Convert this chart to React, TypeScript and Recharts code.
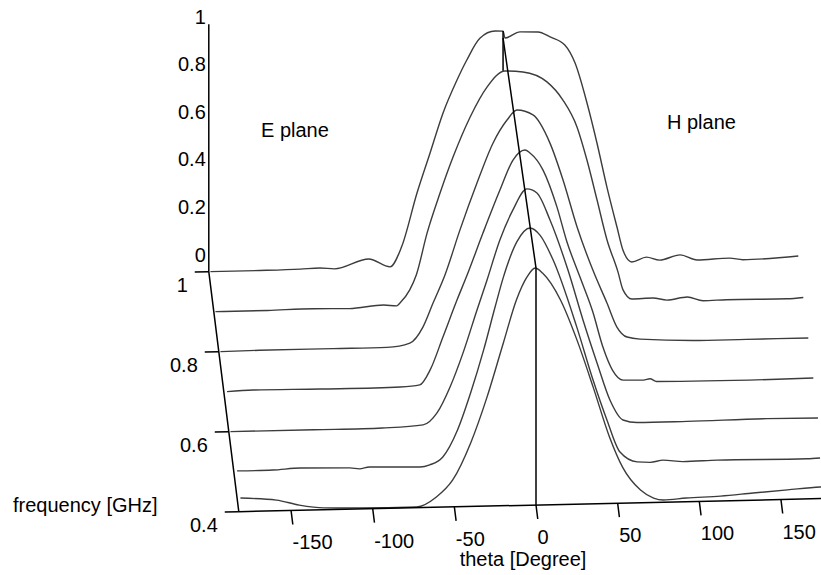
import { ComposedChart, Line, Scatter, XAxis, YAxis } from "recharts";

// frequencies of the cuts, GHz
const freqs = [0.4, 0.5, 0.6, 0.7, 0.8, 0.9, 1.0];

// normalized pattern cuts: [theta (deg), amplitude]
const cut04: [number, number][] = [
  [-181, 0.057], [-159, 0.045], [-145, 0.022], [-130, 0.008], [-108, 0.004], [-73, 0.003],
  [-61, 0.043], [-51, 0.113], [-40, 0.267], [-30, 0.458], [-20, 0.684], [-12, 0.863],
  [-5.5, 0.959], [-0.5, 0.996], [4, 0.974], [15, 0.859], [25, 0.691], [35, 0.49],
  [45, 0.279], [53, 0.151], [64, 0.053], [72, 0.018], [78, 0.009], [92, 0.015],
  [113, 0.02], [133, 0.03], [154, 0.04], [174, 0.049], [178, 0.05],
];
const cut05: [number, number][] = [
  [-180, 0.003], [-158, 0.003], [-141, 0.009], [-111, 0.005], [-105, 0], [-99, 0.007],
  [-68, 0.002], [-62, 0.01], [-54, 0.042], [-45, 0.154], [-37, 0.308], [-29, 0.488],
  [-22, 0.667], [-17, 0.79], [-8.6, 0.94], [-0.6, 0.996], [5.5, 0.965], [13.5, 0.86],
  [28, 0.576], [38, 0.351], [46.5, 0.182], [54.5, 0.046], [65, 0.003], [73, 0],
  [81, 0.008], [93, 0], [114, 0.003], [169, 0], [177, 0.002],
];
const cut06: [number, number][] = [
  [-181, 0], [-130, 0], [-88, 0.001], [-63, 0.01], [-54.5, 0.059], [-46.5, 0.167],
  [-38.6, 0.308], [-30, 0.488], [-24, 0.61], [-16, 0.78], [-8, 0.905], [0.6, 0.992],
  [6.7, 0.974], [14.7, 0.859], [25.7, 0.647], [34.9, 0.436], [43.5, 0.254], [51.4, 0.097],
  [59.4, 0.012], [68, 0], [98.6, 0], [147.6, 0.004], [178.8, 0.002],
];
const cut07: [number, number][] = [
  [-180, 0], [-164, 0.004], [-123, 0.002], [-74, 0.003], [-62, 0.01], [-55.7, 0.071],
  [-47.8, 0.209], [-39.2, 0.363], [-33, 0.467], [-23.3, 0.642], [-12.9, 0.821],
  [-4.9, 0.946], [2.4, 0.987], [5.5, 0.974], [13.5, 0.901], [22, 0.745], [28, 0.6],
  [36, 0.45], [44, 0.3], [50, 0.155], [56, 0.054], [62.5, 0.011], [75, 0.009],
  [79, 0.014], [83, 0.002], [157, 0], [179, 0.002],
];
const cut08: [number, number][] = [
  [-181, 0], [-157, 0.002], [-112, 0.002], [-79, 0.002], [-65, 0.018], [-57, 0.084],
  [-50.8, 0.184], [-43.5, 0.301], [-34.3, 0.489], [-23.9, 0.684], [-14.1, 0.85],
  [-5.5, 0.946], [0.6, 0.987], [10.4, 0.965], [20.8, 0.845], [28.8, 0.689], [37.4, 0.49],
  [47.5, 0.3], [55.7, 0.168], [61.8, 0.066], [68, 0.023], [76, 0.013], [108, 0.002],
  [141, 0.002], [179, 0.002],
];
const cut09: [number, number][] = [
  [-181, 0], [-149, 0], [-121, 0.003], [-99, 0], [-78, 0.012], [-70, 0.007], [-68, 0.019],
  [-62, 0.073], [-58, 0.135], [-51.4, 0.31], [-43.5, 0.476], [-35.5, 0.627], [-25, 0.794],
  [-14.7, 0.918], [-3.7, 0.984], [7.3, 0.978], [22, 0.934], [31.8, 0.856], [40.4, 0.742],
  [46.5, 0.602], [52.7, 0.433], [58.8, 0.264], [65.5, 0.129], [68.6, 0.053], [74, 0.014],
  [87, 0.016], [95.5, 0.006], [108, 0.017], [117.6, 0], [132, 0.002], [169, 0], [179, 0.004],
];
const cut10: [number, number][] = [
  [-181, 0], [-151, 0], [-126, 0.002], [-114, 0.005], [-105, 0], [-84, 0.038], [-71, 0.003],
  [-64, 0.085], [-54.5, 0.311], [-46.5, 0.478], [-38.6, 0.644], [-30, 0.782], [-24, 0.865],
  [-16, 0.955], [-6.7, 0.984], [-1.8, 0.983], [-0.6, 0.954], [8.6, 0.978], [19.6, 0.976],
  [27, 0.954], [36, 0.919], [42.3, 0.842], [49.6, 0.673], [55.7, 0.504], [61.8, 0.318],
  [68, 0.148], [71.6, 0.052], [77, 0.001], [86, 0.02], [94, 0.006], [106.6, 0.026],
  [117, 0.003], [137, 0.008], [145, 0], [179, 0.01],
];
const cuts = [cut04, cut05, cut06, cut07, cut08, cut09, cut10];

const thetaTicks = [-150, -100, -50, 0, 50, 100, 150];
const freqTicks = [0.4, 0.6, 0.8, 1.0];
const ampTicks = [0, 0.2, 0.4, 0.6, 0.8, 1];

// oblique projection of (theta, freq, amplitude) onto the page
const W = 821;
const H = 575;
const X0 = 536;
const Y0 = 505;
const DEG_PX = 1.633;
const AMP_PX = 238;
const F_DX = -50;
const F_DY = 400;
const TILT = 0.0366;
const TH_MIN = -182;

function proj(theta: number, f: number, amp: number) {
  const df = f - 0.4;
  return {
    x: theta + (F_DX / DEG_PX) * df,
    y: amp + (F_DY * df + TILT * theta) / AMP_PX,
  };
}

const curveData = cuts.map((c, i) => c.map(([t, a]) => proj(t, freqs[i], a)));

const segments = [
  // theta axis and frequency axis, amplitude axis
  [proj(TH_MIN, 0.4, 0), proj(180, 0.4, 0)],
  [proj(TH_MIN, 0.4, 0), proj(TH_MIN, 1.0, 0), proj(TH_MIN, 1.0, 1.04)],
  // theta = 0 spine
  [proj(0, 0.4, 0), proj(0, 0.4, 0.996), proj(-1.8, 1.0, 0.954)],
  [proj(-1.8, 1.0, 0.983), proj(-1.8, 1.0, 0.816)],
  ...thetaTicks.map((t) => [proj(t, 0.4, 0), proj(t, 0.365, 0)]),
  ...freqTicks.map((f) => [proj(TH_MIN, f, 0), proj(TH_MIN - 8.6, f, 0)]),
];

const thetaLabels = thetaTicks.map((t) => ({ ...proj(t, 0.4, 0), label: String(t) }));
const freqLabels = freqTicks.map((f) => ({ ...proj(TH_MIN, f, 0), label: String(f) }));
const ampLabels = ampTicks.map((a) => ({ ...proj(TH_MIN, 1.0, a), label: String(a) }));

const FONT = "'Liberation Sans', Arial, sans-serif";

function labelShape(dx: number, dy: number, anchor: string) {
  return (props: any) => (
    <text
      x={props.cx + dx}
      y={props.cy + dy}
      textAnchor={anchor}
      fontFamily={FONT}
      fontSize={20}
      fill="#000"
    >
      {props.payload.label}
    </text>
  );
}

export default function App() {
  return (
    <div style={{ position: "absolute", left: 0, top: 0, width: W, height: H, background: "#fff" }}>
      <ComposedChart width={W} height={H} margin={{ top: 0, right: 0, bottom: 0, left: 0 }}>
        <XAxis
          type="number"
          dataKey="x"
          domain={[-X0 / DEG_PX, (W - X0) / DEG_PX]}
          allowDataOverflow
          hide
        />
        <YAxis
          type="number"
          dataKey="y"
          domain={[(Y0 - H) / AMP_PX, Y0 / AMP_PX]}
          allowDataOverflow
          hide
        />
        {curveData.map((d, i) => (
          <Line
            key={"c" + i}
            data={d}
            dataKey="y"
            type="monotone"
            stroke="#3c3c3c"
            strokeWidth={1.4}
            dot={false}
            activeDot={false}
            isAnimationActive={false}
          />
        ))}
        {segments.map((d, i) => (
          <Line
            key={"s" + i}
            data={d}
            dataKey="y"
            type="linear"
            stroke="#000"
            strokeWidth={1.5}
            dot={false}
            activeDot={false}
            isAnimationActive={false}
          />
        ))}
        <Scatter data={thetaLabels} dataKey="y" shape={labelShape(1.5, 39, "start")} isAnimationActive={false} />
        <Scatter data={freqLabels} dataKey="y" shape={labelShape(-21, 20, "end")} isAnimationActive={false} />
        <Scatter data={ampLabels} dataKey="y" shape={labelShape(-3, -10, "end")} isAnimationActive={false} />
      </ComposedChart>
      <svg
        width={W}
        height={H}
        style={{ position: "absolute", left: 0, top: 0, pointerEvents: "none" }}
        fontFamily={FONT}
        fontSize={20}
      >
        <text x={261} y={137}>E plane</text>
        <text x={667} y={129}>H plane</text>
        <text x={13} y={512}>frequency [GHz]</text>
        <text x={523} y={566} textAnchor="middle">theta [Degree]</text>
      </svg>
    </div>
  );
}
